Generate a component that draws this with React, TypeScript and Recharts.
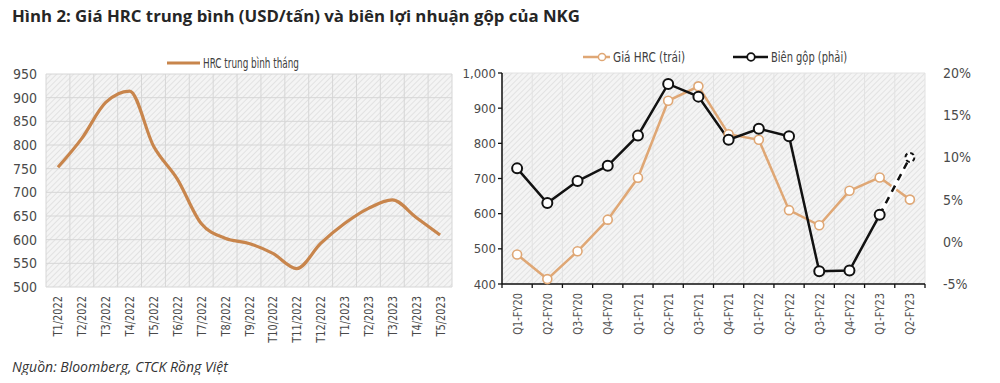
import { CartesianGrid, Line, LineChart, XAxis, YAxis } from "recharts";

const FONT = '"Liberation Sans Narrow", "DejaVu Sans Condensed", "Liberation Sans", sans-serif';

// left chart: monthly HRC price (USD/t)
const MONTHS = [
  "T1/2022", "T2/2022", "T3/2022", "T4/2022", "T5/2022", "T6/2022", "T7/2022", "T8/2022", "T9/2022",
  "T10/2022", "T11/2022", "T12/2022", "T1/2023", "T2/2023", "T3/2023", "T4/2023", "T5/2023",
];
const HRC_MONTHLY = [753, 814, 890, 914, 798, 728, 634, 603, 592, 571, 539, 592, 634, 666, 684, 647, 610];
const LEFT_TICKS = [500, 550, 600, 650, 700, 750, 800, 850, 900, 950];

// right chart: quarterly HRC price vs NKG gross margin
const QUARTERS = [
  "Q1-FY20", "Q2-FY20", "Q3-FY20", "Q4-FY20", "Q1-FY21", "Q2-FY21", "Q3-FY21",
  "Q4-FY21", "Q1-FY22", "Q2-FY22", "Q3-FY22", "Q4-FY22", "Q1-FY23", "Q2-FY23",
];
const HRC_QUARTERLY = [484, 414, 493, 583, 702, 921, 962, 826, 810, 610, 567, 665, 703, 640];
const GROSS_MARGIN = [8.7, 4.6, 7.2, 9.0, 12.6, 18.7, 17.2, 12.1, 13.4, 12.5, -3.5, -3.4, 3.2, null];
const GROSS_MARGIN_EST = [null, null, null, null, null, null, null, null, null, null, null, null, 3.2, 10.0];
const PRICE_TICKS = [400, 500, 600, 700, 800, 900, 1000];
const MARGIN_TICKS = [-5, 0, 5, 10, 15, 20];

const monthlyData = MONTHS.map((m, i) => ({ month: m, hrc: HRC_MONTHLY[i] }));
const quarterlyData = QUARTERS.map((q, i) => ({
  quarter: q,
  hrc: HRC_QUARTERLY[i],
  margin: GROSS_MARGIN[i],
  est: GROSS_MARGIN_EST[i],
}));

const BROWN = "#c8854c";
const ORANGE = "#dfa775";

const LEFT_BAND = 406 / MONTHS.length;
const RIGHT_BAND = 423 / QUARTERS.length;

function boundaryLines(n: number) {
  return ({ offset }: any) => Array.from({ length: n + 1 }, (_, i) => offset.left + (i * offset.width) / n);
}

function Hatch({ id }: { id: string }) {
  return (
    <defs>
      <pattern id={id} width="4" height="4" patternUnits="userSpaceOnUse" patternTransform="rotate(45)">
        <rect width="4" height="4" fill="#f4f4f4" />
        <line x1="0" y1="0" x2="0" y2="4" stroke="#dedede" strokeWidth="1.6" />
      </pattern>
    </defs>
  );
}

function RotatedTick({ x, y, payload, color }: any) {
  return (
    <text
      transform={`translate(${x},${y + 9}) rotate(-90) scale(0.84,1)`}
      textAnchor="end"
      dy="0.35em"
      fill={color}
      fontSize={13}
      fontFamily={FONT}
    >
      {payload.value}
    </text>
  );
}

function QuarterTick(props: any) {
  const { x, y, index } = props;
  return (
    <g>
      <line x1={x - RIGHT_BAND / 2} x2={x - RIGHT_BAND / 2} y1={y} y2={y + 4} stroke="#111" strokeWidth={1.3} />
      {index === QUARTERS.length - 1 && (
        <line x1={x + RIGHT_BAND / 2} x2={x + RIGHT_BAND / 2} y1={y} y2={y + 4} stroke="#111" strokeWidth={1.3} />
      )}
      <RotatedTick {...props} color="#555" />
    </g>
  );
}

function EstimateDot({ cx, cy, index }: any) {
  if (index !== QUARTERS.length - 1 || cy == null) return null;
  return <circle cx={cx} cy={cy} r={4.5} fill="#fff" stroke="#111" strokeWidth={2} strokeDasharray="4 3" />;
}

export default function App() {
  return (
    <div style={{ position: "relative", width: 1000, height: 383, margin: -8, background: "#fff", overflow: "hidden" }}>
      <div
        style={{
          position: "absolute",
          left: 12,
          top: 4,
          fontFamily: '"Open Sans", sans-serif',
          fontWeight: 700,
          fontSize: 16.8,
          color: "#262626",
          whiteSpace: "nowrap",
        }}
      >
        Hình 2: Giá HRC trung bình (USD/tấn) và biên lợi nhuận gộp của NKG
      </div>

      {/* left legend */}
      <svg style={{ position: "absolute", left: 166, top: 54 }} width={220} height={18}>
        <line x1={1} x2={34} y1={9} y2={9} stroke={BROWN} strokeWidth={3} />
        <text x={37} y={13.5} fontSize={13.5} fontFamily={FONT} fill="#404040" textLength={96} lengthAdjust="spacingAndGlyphs">
          HRC trung bình tháng
        </text>
      </svg>

      <div style={{ position: "absolute", left: 0, top: 0 }}>
        <LineChart width={470} height={383} data={monthlyData} margin={{ top: 74, right: 18, bottom: 36, left: 0 }}>
          <Hatch id="hatchLeft" />
          <CartesianGrid
            fill="url(#hatchLeft)"
            stroke="#d6d6d6"
            strokeWidth={1}
            verticalCoordinatesGenerator={boundaryLines(MONTHS.length)}
          />
          <XAxis
            dataKey="month"
            interval={0}
            padding={{ left: LEFT_BAND / 2, right: LEFT_BAND / 2 }}
            axisLine={false}
            tickLine={false}
            tickSize={0}
            tickMargin={0}
            height={60}
            tick={<RotatedTick color="#4a4a4a" />}
          />
          <YAxis
            domain={[500, 950]}
            ticks={LEFT_TICKS}
            axisLine={false}
            tickLine={false}
            tickSize={0}
            tickMargin={9}
            width={46}
            tick={{ fill: "#4a4a4a", fontSize: 14, fontFamily: FONT }}
          />
          <Line
            type="monotone"
            dataKey="hrc"
            stroke={BROWN}
            strokeWidth={3.2}
            dot={false}
            isAnimationActive={false}
          />
        </LineChart>
      </div>

      {/* right legend */}
      <svg style={{ position: "absolute", left: 580, top: 48 }} width={320} height={18}>
        <line x1={3} x2={30} y1={9} y2={9} stroke={ORANGE} strokeWidth={2.5} />
        <circle cx={22} cy={9} r={3.6} fill="#fff" stroke={ORANGE} strokeWidth={1.5} />
        <text x={33} y={13.5} fontSize={13.5} fontFamily={FONT} fill="#404040" textLength={72} lengthAdjust="spacingAndGlyphs">
          Giá HRC (trái)
        </text>
        <line x1={153} x2={188} y1={9} y2={9} stroke="#111" strokeWidth={2.5} />
        <circle cx={171} cy={9} r={3.8} fill="#fff" stroke="#111" strokeWidth={1.8} />
        <text x={191} y={13.5} fontSize={13.5} fontFamily={FONT} fill="#404040" textLength={76} lengthAdjust="spacingAndGlyphs">
          Biên gộp (phải)
        </text>
      </svg>

      <div style={{ position: "absolute", left: 460, top: 0 }}>
        <LineChart width={540} height={383} data={quarterlyData} margin={{ top: 73, right: 25, bottom: 35, left: 0 }}>
          <Hatch id="hatchRight" />
          <CartesianGrid
            fill="url(#hatchRight)"
            stroke="#e2e2e2"
            strokeWidth={1}
            verticalCoordinatesGenerator={boundaryLines(QUARTERS.length)}
          />
          <XAxis
            dataKey="quarter"
            interval={0}
            padding={{ left: RIGHT_BAND / 2, right: RIGHT_BAND / 2 }}
            axisLine={{ stroke: "#111", strokeWidth: 1.5 }}
            tickLine={false}
            tickSize={0}
            tickMargin={0}
            height={64}
            tick={<QuarterTick />}
          />
          <YAxis
            yAxisId="price"
            domain={[400, 1000]}
            ticks={PRICE_TICKS}
            axisLine={{ stroke: "#111", strokeWidth: 1.5 }}
            tickLine={{ stroke: "#111", strokeWidth: 1.3 }}
            tickSize={4}
            tickMargin={2}
            width={42}
            tickFormatter={(v: number) => v.toLocaleString("en-US")}
            tick={{ fill: "#4a4a4a", fontSize: 13, fontFamily: FONT }}
          />
          <YAxis
            yAxisId="margin"
            orientation="right"
            domain={[-5, 20]}
            ticks={MARGIN_TICKS}
            axisLine={false}
            tickLine={false}
            tickSize={0}
            tickMargin={18}
            width={50}
            tickFormatter={(v: number) => `${v}%`}
            tick={{ fill: "#4a4a4a", fontSize: 14, fontFamily: FONT }}
          />
          <Line
            yAxisId="price"
            type="linear"
            dataKey="hrc"
            stroke={ORANGE}
            strokeWidth={2.5}
            dot={{ r: 4.5, fill: "#fff", stroke: ORANGE, strokeWidth: 1.6 }}
            isAnimationActive={false}
          />
          <Line
            yAxisId="margin"
            type="linear"
            dataKey="est"
            stroke="#fff"
            strokeWidth={6}
            dot={false}
            isAnimationActive={false}
          />
          <Line
            yAxisId="margin"
            type="linear"
            dataKey="est"
            stroke="#111"
            strokeWidth={2.5}
            strokeDasharray="7 6"
            dot={<EstimateDot />}
            isAnimationActive={false}
          />
          <Line
            yAxisId="margin"
            type="linear"
            dataKey="margin"
            stroke="#111"
            strokeWidth={2.5}
            dot={{ r: 5, fill: "#fff", stroke: "#111", strokeWidth: 2 }}
            isAnimationActive={false}
          />
        </LineChart>
      </div>

      <div
        style={{
          position: "absolute",
          left: 12,
          top: 357,
          fontFamily: '"Open Sans", sans-serif',
          fontStyle: "italic",
          fontSize: 14,
          color: "#333",
          whiteSpace: "nowrap",
        }}
      >
        Nguồn: Bloomberg, CTCK Rồng Việt
      </div>
    </div>
  );
}
